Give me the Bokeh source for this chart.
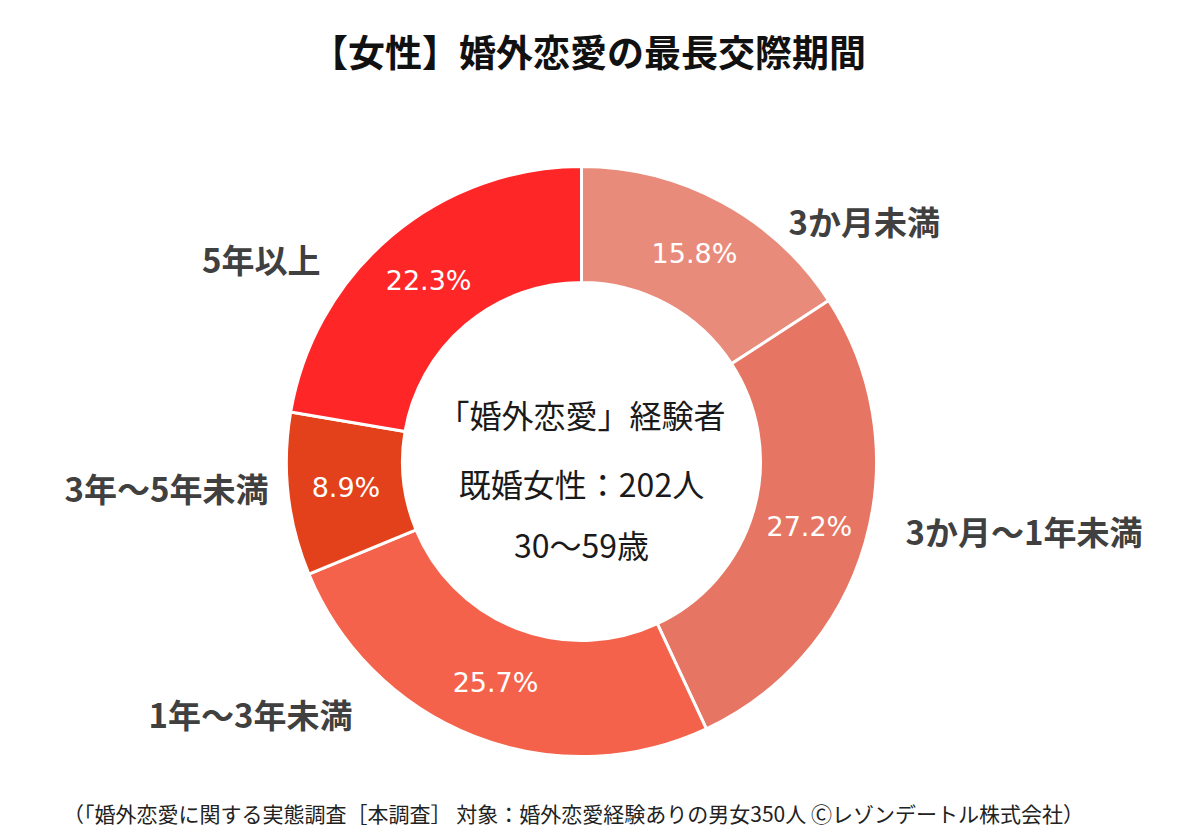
from math import pi, sin, cos
from bokeh.plotting import figure
from bokeh.models import Range1d, ColumnDataSource
from bokeh.core.properties import value
from bokeh.embed import file_html
from bokeh.resources import INLINE

# data
categories = ["3か月未満", "3か月～1年未満", "1年～3年未満", "3年～5年未満", "5年以上"]
shares = [15.8, 27.2, 25.7, 8.9, 22.3]
colors = ["#E98B7A", "#E67663", "#F5624B", "#E2411B", "#FF2628"]
center_lines = ["「婚外恋愛」経験者", "既婚女性：202人", "30～59歳"]
title = "【女性】婚外恋愛の最長交際期間"
footer = "（「婚外恋愛に関する実態調査［本調査］ 対象：婚外恋愛経験ありの男女350人 Ⓒレゾンデートル株式会社）"

# layout (pixel-like data units)
W, H = 1200, 828
cx, cy = 581, 367
r_in, r_out = 179, 295
FONT = "Noto Sans CJK JP"

# outside label anchors, placed by hand like the original
label_x = [788, 905, 352, 268, 320]
label_y = [608, 298, 115, 341, 570]
label_align = ["left", "left", "right", "right", "right"]

total = sum(shares)
starts, ends, mids = [], [], []
acc = 0
for s in shares:
    a0 = pi / 2 - 2 * pi * acc / total
    acc += s
    a1 = pi / 2 - 2 * pi * acc / total
    starts.append(a0)
    ends.append(a1)
    mids.append((a0 + a1) / 2)

src = ColumnDataSource(dict(
    start=starts, end=ends, color=colors,
    px=[cx + (r_in + r_out) / 2 * cos(m) for m in mids],
    py=[cy + (r_in + r_out) / 2 * sin(m) for m in mids],
    pct=[f"{s}%" for s in shares],
    lx=label_x, ly=label_y, lab=categories, al=label_align,
))

p = figure(width=W, height=H, x_range=Range1d(0, W), y_range=Range1d(0, H),
           output_backend="svg", toolbar_location=None, min_border=0)
p.axis.visible = False
p.grid.visible = False
p.outline_line_color = None

p.annular_wedge(x=cx, y=cy, inner_radius=r_in, outer_radius=r_out,
                start_angle="start", end_angle="end", direction="clock",
                fill_color="color", line_color="white", line_width=3, source=src)

p.text(x="px", y="py", text="pct", source=src, text_color="white",
       text_font=value("DejaVu Sans"), text_font_size="27px",
       text_align="center", text_baseline="middle")

p.text(x="lx", y="ly", text="lab", source=src, text_color="#404040",
       text_font=value(FONT), text_font_size="33px", text_font_style="bold",
       text_align="al", text_baseline="middle")

p.text(x=[cx] * 3, y=[415, 346, 285], text=center_lines, text_color="#1a1a1a",
       text_font=value(FONT), text_font_size="32px",
       text_align="center", text_baseline="middle")

p.text(x=[588], y=[778], text=[title], text_color="#111111",
       text_font=value(FONT), text_font_size="37px", text_font_style="bold",
       text_align="center", text_baseline="middle")

p.text(x=[573], y=[16], text=[footer], text_color="#222222",
       text_font=value(FONT), text_font_size="21px",
       text_align="center", text_baseline="middle")

open("out.html", "w").write(file_html(p, INLINE))
